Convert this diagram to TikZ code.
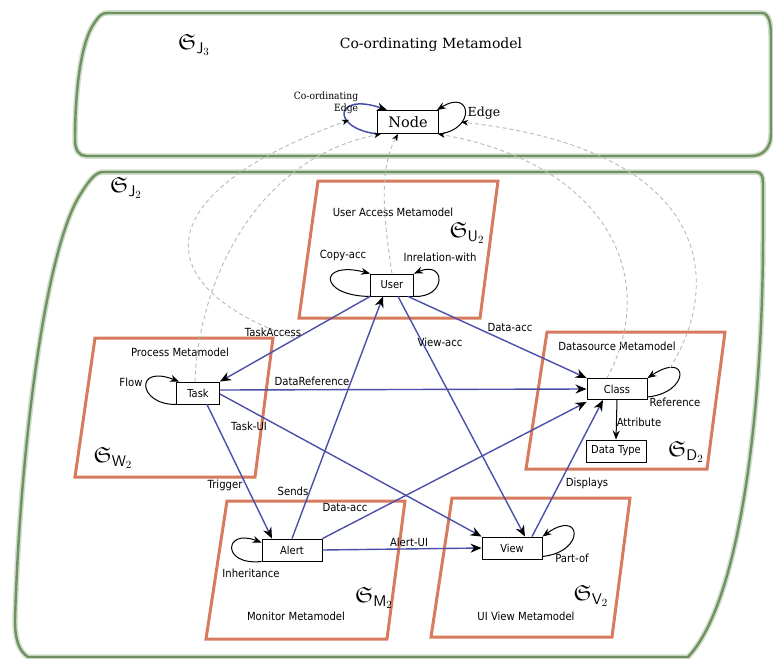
\documentclass[tikz,border=0pt]{standalone}
\usepackage{fontspec}
\usepackage{amsfonts}
\usetikzlibrary{arrows.meta}
\newfontfamily\lblfont[FakeStretch=0.9]{DejaVu Sans}
\newfontfamily\serfont{DejaVu Serif}
\newfontfamily\serfontc[FakeStretch=0.92]{DejaVu Serif}

\definecolor{metaorange}{RGB}{216,122,94}
\definecolor{relblue}{RGB}{74,80,168}
\definecolor{framegreen}{RGB}{112,146,96}
\definecolor{framehalo}{RGB}{210,222,204}
\definecolor{mapgrey}{RGB}{176,188,188}

\tikzset{
  frameline/.style={draw=framegreen, line width=2.4pt, line join=round},
  framehaloline/.style={draw=framehalo, line width=5.5pt, line join=round},
  metabox/.style={draw=metaorange, line width=3pt, line join=miter},
  elem/.style={draw=black, line width=0.9pt, fill=white, inner sep=0pt,
    minimum height=22pt, font=\lblfont\fontsize{11}{11}\selectfont},
  lab/.style={font=\lblfont\fontsize{11.2}{12.5}\selectfont, inner sep=0.5pt},
  sym/.style={font=\fontsize{22}{22}\selectfont, inner sep=0pt},
  rel/.style={draw=relblue, line width=1.4pt,
    -{Stealth[color=black, length=11pt, width=9pt, inset=3.5pt]}},
  selfloop/.style={draw=black, line width=1pt,
    -{Stealth[length=9pt, width=7pt, inset=3pt]}},
  mapline/.style={draw=mapgrey, line width=0.9pt, dash pattern=on 4pt off 3pt,
    -{Stealth[color=black, length=7pt, width=5.5pt, inset=2pt]}}
}

\begin{document}
\begin{tikzpicture}[x=1pt, y=-1pt]
\useasboundingbox (0,0) rectangle (773,658);

% ---- upper (co-ordinating) layer frame
\foreach \st in {framehaloline, frameline}
  \draw[\st] (107,13) -- (762,13) .. controls (769,13) and (771,24) .. (771,36)
    -- (771,134) .. controls (771,148) and (763,156) .. (751,156)
    -- (86,156) .. controls (79,156) and (75,150) .. (75,140)
    .. controls (75,95) and (80,42) .. (95,22) .. controls (99,16) and (102,13) .. (107,13) -- cycle;

% ---- lower layer frame
\foreach \st in {framehaloline, frameline}
  \draw[\st] (103,172) -- (756,172) .. controls (761,172) and (763,176) .. (763,183)
    -- (763,235) .. controls (763,400) and (742,600) .. (688,657)
    -- (28,657) .. controls (19,651) and (15,640) .. (15,620)
    .. controls (20,450) and (45,250) .. (80,195) .. controls (88,182) and (95,172) .. (103,172) -- cycle;

% ---- metamodel panels
\draw[metabox] (318,181) -- (498,181) -- (480,318) -- (299,318) -- cycle;
\draw[metabox] (95,338) -- (273,338) -- (255,477) -- (75,477) -- cycle;
\draw[metabox] (547,332) -- (725,332) -- (707,469) -- (526,469) -- cycle;
\draw[metabox] (227,501) -- (405,501) -- (387,639) -- (206,639) -- cycle;
\draw[metabox] (452,498) -- (630,498) -- (612,637) -- (431,637) -- cycle;

% ---- titles and layer symbols
\node[sym] (sJ3) at (194,45) {$\mathfrak{S}_{\mathsf{J}_3}$};
\node[font=\serfont\fontsize{14}{14}\selectfont] (coordTitle) at (431,45) {Co-ordinating Metamodel};
\node[sym] (sJ2) at (126,188) {$\mathfrak{S}_{\mathsf{J}_2}$};
\node[lab] (uaTitle) at (393,212) {User Access Metamodel};
\node[sym] (sU2) at (467,233) {$\mathfrak{S}_{\mathsf{U}_2}$};
\node[lab] (pTitle) at (180,352) {Process Metamodel};
\node[sym] (sW2) at (113,458) {$\mathfrak{S}_{\mathsf{W}_2}$};
\node[lab] (dsTitle) at (617,346) {Datasource Metamodel};
\node[sym] (sD2) at (686,452) {$\mathfrak{S}_{\mathsf{D}_2}$};
\node[lab] (mTitle) at (296,616) {Monitor Metamodel};
\node[sym] (sM2) at (374,598) {$\mathfrak{S}_{\mathsf{M}_2}$};
\node[lab] (uiTitle) at (526,616) {UI View Metamodel};
\node[sym] (sV2) at (591,596) {$\mathfrak{S}_{\mathsf{V}_2}$};

% ---- elements
\node[elem, minimum width=61pt, minimum height=23pt, font=\serfont\fontsize{14.5}{14.5}\selectfont]
  (node) at (408,122) {Node};
\node[elem, minimum width=43pt] (user) at (392,285) {User};
\node[elem, minimum width=43pt] (task) at (198,393) {Task};
\node[elem, minimum width=60pt, minimum height=21pt] (class) at (617,389) {Class};
\node[elem, minimum width=60pt] (dtype) at (616,451) {Data Type};
\node[elem, minimum width=60pt] (alert) at (292,550) {Alert};
\node[elem, minimum width=60pt] (view) at (512,548) {View};

% ---- co-ordinating layer edges
\draw[draw=relblue, line width=1.5pt, -{Stealth[color=black, length=10pt, width=8pt, inset=3pt]}]
  (node.south west) .. controls (330,128) and (335,92) .. ([xshift=10pt]node.north west);
\draw[selfloop] (node.south east) .. controls (476,130) and (472,88) .. ([xshift=-2pt]node.north east);
\node[font=\serfontc\fontsize{10}{11.5}\selectfont, align=right, inner sep=0pt]
  (ceLabel) at (326,103) {Co-ordinating\\Edge};
\node[font=\serfont\fontsize{12.5}{12.5}\selectfont, inner sep=0pt] (edgeLabel) at (484,113) {Edge};

% ---- self loops inside the panels
\draw[selfloop] (user.south west) .. controls (318,296) and (318,260) .. (user.north west);
\draw[selfloop] (user.south east) .. controls (447,298) and (446,260) .. (user.north east);
\draw[selfloop] (task.south west) .. controls (138,405) and (134,364) .. ([xshift=3pt]task.north west);
\draw[selfloop] ([yshift=3pt]class.south east) .. controls (690,393) and (690,350) .. (class.north east);
\draw[selfloop] (alert.south west) .. controls (221,566) and (224,528) .. ([yshift=-4pt]alert.north west);
\draw[selfloop] ([yshift=3pt]view.south east) .. controls (586,552) and (582,508) .. (view.north east);
\draw[selfloop] (class.south) -- (dtype.north);

\node[lab] (copyLbl) at (343,256) {Copy-acc};
\node[lab] (inrelLbl) at (440,257) {Inrelation-with};
\node[lab] (flowLbl) at (131,382) {Flow};
\node[lab] (refLbl) at (675,402) {Reference};
\node[lab] (attrLbl) at (639,422) {Attribute};
\node[lab] (inhLbl) at (251,573) {Inheritance};
\node[lab] (partLbl) at (572,558) {Part-of};

% ---- relations between metamodels
\draw[rel] (user.south west) -- (task.north east);
\draw[rel] (alert.north) -- ([xshift=-9pt]user.south);
\draw[rel] ([xshift=6pt]user.south) -- ([xshift=13pt]view.north);
\draw[rel] ([xshift=-6pt]user.south east) -- (class.north west);
\draw[rel] ([yshift=3pt]task.east) -- (class.west);
\draw[rel] ([yshift=-1pt]task.east) -- (view.north west);
\draw[rel] ([xshift=9pt]task.south) -- ([xshift=-20pt]alert.north);
\draw[rel] (alert.north east) -- ([yshift=-2pt]class.south west);
\draw[rel] (alert.east) -- (view.west);
\draw[rel] ([xshift=20pt]view.north) -- ([xshift=-14pt]class.south);

\node[lab] (taLbl) at (273,332) {TaskAccess};
\node[lab] (drLbl) at (312,381) {DataReference};
\node[lab] (tuLbl) at (249,426) {Task-UI};
\node[lab] (trLbl) at (225,485) {Trigger};
\node[lab] (sendsLbl) at (293,491) {Sends};
\node[lab] (daLbl) at (345,507) {Data-acc};
\node[lab] (auLbl) at (409,542) {Alert-UI};
\node[lab] (vaLbl) at (440,342) {View-acc};
\node[lab] (duLbl) at (510,327) {Data-acc};
\node[lab] (dispLbl) at (587,483) {Displays};

% ---- mapping of the lower layer onto the co-ordinating layer
\coordinate (ceLoop) at (349,120);
\coordinate (edgeLoop) at (461,122);
\coordinate (taOnEdge) at (294,338);
\coordinate (refTop) at (670,368);

\draw[mapline] ([xshift=-3pt]task.north) .. controls (198,290) and (250,160) .. ([xshift=4pt]node.south west);
\draw[mapline] (taOnEdge) .. controls (155,290) and (135,198) .. (ceLoop);
\draw[mapline] (user.north) .. controls (384,220) and (378,170) .. ([xshift=-10pt]node.south);
\draw[mapline] ([xshift=-10pt]class.north) .. controls (660,280) and (610,165) .. ([xshift=-1pt]node.south east);
\draw[mapline] (refTop) .. controls (725,280) and (710,150) .. (edgeLoop);

\end{tikzpicture}
\end{document}
